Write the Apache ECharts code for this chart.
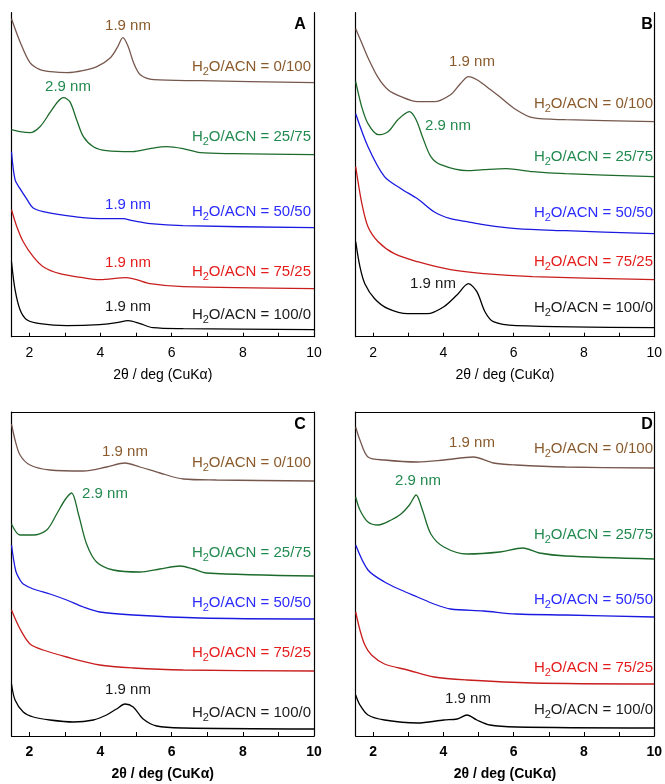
<!DOCTYPE html>
<html>
<head>
<meta charset="utf-8">
<script src="https://cdn.jsdelivr.net/npm/echarts@6/dist/echarts.min.js"></script>
<style>
  html, body { margin: 0; padding: 0; background: #fff; }
  #chart { width: 665px; height: 784px; }
</style>
</head>
<body>
<div id="chart"></div>
<script>
// 2θ (deg) vs. offset intensity (arb. units, stacked)
const ratios = ['0/100', '25/75', '50/50', '75/25', '100/0']
const xTicks = [2, 3, 4, 5, 6, 7, 8, 9, 10]
const xLabels = [2, 4, 6, 8, 10]

// panel A
const aBrown = [[1.5,318],[1.75,294],[2.02,274],[2.3,267],[2.6,265],[3.07,264],[3.5,266],[3.9,270],[4.28,279],[4.47,289],[4.63,299],[4.78,290],[4.93,274],[5.12,262],[5.5,257],[6.8,256],[10,254]]
const aGreen = [[1.5,207],[1.74,205],[2.02,204],[2.3,210],[2.58,224],[2.8,235],[2.96,239],[3.14,235],[3.33,217],[3.52,200],[3.8,190],[4.17,186],[4.9,185],[5.39,188],[5.86,190],[6.32,188],[6.8,184],[7.73,183],[10,182]]
const aBlue = [[1.5,185],[1.6,157],[1.74,148],[1.94,137],[2.1,129],[2.39,125],[2.86,122],[3.5,119],[3.98,118],[4.63,118],[4.9,116],[5.4,113],[6.32,111],[10,109]]
const aRed = [[1.5,127],[1.65,110],[1.83,95],[2.11,80],[2.39,70],[2.86,63],[3.5,59],[3.98,57],[4.73,59],[5.02,57],[5.39,53],[6.32,50],[10,48]]
const aBlack = [[1.5,75],[1.6,47],[1.74,27],[1.93,17],[2.3,13],[3.05,11],[3.98,12],[4.45,14],[4.78,16],[5.11,13],[5.48,9],[6.33,8],[10,7]]

// panel B
const bBrown = [[1.5,308],[1.67,294],[1.85,279],[2.14,259],[2.42,247],[2.79,240],[3.26,235],[3.73,235],[4.2,242],[4.48,253],[4.71,260],[4.95,257],[5.23,250],[5.6,240],[6.07,227],[6.54,219],[7.48,217],[10,215]]
const bGreen = [[1.5,255],[1.67,230],[1.85,213],[2.14,202],[2.42,205],[2.7,217],[3.03,225],[3.22,217],[3.4,200],[3.64,180],[3.92,172],[4.67,166],[5.14,167],[5.79,168],[6.54,165],[7.48,163],[10,160]]
const bBlue = [[1.5,223],[1.85,190],[2.32,160],[2.79,148],[3.26,138],[3.73,125],[4.2,118],[4.67,115],[5.14,112],[6.07,108],[7.48,106],[10,103]]
const bRed = [[1.5,170],[1.67,134],[1.85,110],[2.14,95],[2.6,83],[3.26,75],[4.2,67],[5.14,63],[6.54,60],[10,57]]
const bBlack = [[1.5,95],[1.62,70],[1.76,53],[2.04,38],[2.42,28],[2.98,23],[3.54,23],[4.01,30],[4.39,42],[4.71,53],[4.95,45],[5.18,25],[5.42,15],[6.07,11],[10,9]]

// panel C
const cBrown = [[1.5,312],[1.6,296],[1.74,281],[2.02,271],[2.58,266],[3.52,265],[4.17,269],[4.69,273],[5.11,269],[5.67,263],[6.33,257],[7.26,256],[10,255]]
const cGreen = [[1.5,212],[1.74,201],[2.11,201],[2.49,206],[2.77,222],[3.0,236],[3.19,243],[3.38,222],[3.61,192],[3.89,174],[4.36,166],[5.11,164],[5.67,167],[6.24,170],[6.61,167],[6.98,163],[10,160]]
const cBlue = [[1.5,191],[1.62,165],[1.74,156],[1.83,152],[2.11,147],[2.58,142],[3.05,136],[3.52,129],[3.98,124],[4.92,121],[6.8,118],[10,117]]
const cRed = [[1.5,126],[1.74,107],[2.02,92],[2.39,86],[3.05,79],[3.98,71],[4.92,68],[6.33,66],[10,65]]
const cBlack = [[1.5,52],[1.6,36],[1.83,24],[2.11,19],[2.58,16],[3.24,14],[3.8,16],[4.17,21],[4.45,27],[4.69,32],[4.92,29],[5.2,17],[5.58,10],[6.33,8],[10,7]]

// panel D
const dBrown = [[1.5,309],[1.62,296],[1.85,279],[2.32,276],[3.26,274],[4.01,276],[4.85,279],[5.42,273],[6.07,271],[7.48,269],[10,268]]
const dGreen = [[1.5,239],[1.62,226],[1.85,214],[2.14,211],[2.51,216],[2.79,222],[3.03,231],[3.22,241],[3.4,226],[3.64,202],[4.01,189],[4.67,182],[5.6,184],[6.26,188],[6.73,183],[7.48,180],[10,177]]
const dBlue = [[1.5,191],[1.85,166],[2.32,154],[2.79,146],[3.26,139],[3.73,132],[4.2,127],[5.14,125],[6.07,122],[7.48,121],[10,119]]
const dRed = [[1.5,124],[1.62,106],[1.76,91],[1.95,81],[2.32,72],[2.98,66],[3.73,59],[4.67,56],[6.54,53],[10,52]]
const dBlack = [[1.5,41],[1.62,31],[1.85,21],[2.32,16],[3.26,13],[4.01,16],[4.39,17],[4.67,21],[4.95,16],[5.32,11],[6.07,9],[10,8]]

const panelData = {
  A: [aBrown, aGreen, aBlue, aRed, aBlack],
  B: [bBrown, bGreen, bBlue, bRed, bBlack],
  C: [cBrown, cGreen, cBlue, cRed, cBlack],
  D: [dBrown, dGreen, dBlue, dRed, dBlack],
}

const lineColors = ['#76574d', '#1d6b2c', '#1a1ae0', '#c81e1e', '#000000']
const textColors = ['#8a5a2c', '#238a4f', '#2b2bff', '#e41c1c', '#1a1a1a']

// grid boxes and where the annotations sit (pixels)
const panels = [
  { id: 'A', left: 11.5, top: 12.7, bold: false, closed: false, letter: [300, 25],
    ratioX: 311, ratioY: [67, 137, 212, 272, 315],
    peaks: [[128, 26, '1.9 nm', 0], [68, 87, '2.9 nm', 1], [128, 205, '1.9 nm', 2], [128, 263, '1.9 nm', 3], [128, 307, '1.9 nm', 4]] },
  { id: 'B', left: 355.7, top: 12.7, bold: false, closed: false, letter: [647, 25],
    ratioX: 653, ratioY: [104, 157, 213, 262, 308],
    peaks: [[472, 62, '1.9 nm', 0], [448, 126, '2.9 nm', 1], [433, 284, '1.9 nm', 4]] },
  { id: 'C', left: 11.5, top: 412, bold: true, closed: true, letter: [300, 425],
    ratioX: 311, ratioY: [463, 553, 603, 653, 713],
    peaks: [[125, 452, '1.9 nm', 0], [105, 494, '2.9 nm', 1], [128, 690, '1.9 nm', 4]] },
  { id: 'D', left: 355.7, top: 412, bold: true, closed: true, letter: [647, 425],
    ratioX: 653, ratioY: [449, 535, 600, 668, 710],
    peaks: [[472, 443, '1.9 nm', 0], [418, 481, '2.9 nm', 1], [468, 699, '1.9 nm', 4]] },
]
const plotW = 302.5
const plotH = 324

const font = 'Liberation Sans, Arial, sans-serif'
let grid = [], xAxis = [], yAxis = [], series = [], graphic = []

panels.forEach(function (p, gi) {
  grid.push({ left: p.left, top: p.top, width: plotW, height: plotH })
  let tick = { show: true, inside: true, length: 4, customValues: xTicks, lineStyle: { color: '#000', width: 1 } }
  xAxis.push({
    type: 'value', gridIndex: gi, min: 1.5, max: 10, position: 'bottom',
    axisLine: { show: true, onZero: false, lineStyle: { color: '#000', width: 1.2 } },
    axisTick: tick,
    axisLabel: { customValues: xLabels, margin: 9, color: '#000', fontSize: 14, fontFamily: font, fontWeight: p.bold ? 'bold' : 'normal' },
    splitLine: { show: false },
    name: '2θ / deg (CuKα)', nameLocation: 'middle', nameGap: 31,
    nameTextStyle: { color: '#000', fontSize: 14, fontFamily: font, fontWeight: p.bold ? 'bold' : 'normal' },
  })
  if (p.closed) {
    xAxis.push({
      type: 'value', gridIndex: gi, min: 1.5, max: 10, position: 'top',
      axisLine: { show: true, onZero: false, lineStyle: { color: '#000', width: 1.2 } },
      axisTick: { show: false }, axisLabel: { show: false }, splitLine: { show: false },
    })
  }
  ;['left', 'right'].forEach(function (pos) {
    yAxis.push({
      type: 'value', gridIndex: gi, min: 0, max: plotH, position: pos,
      axisLine: { show: true, onZero: false, lineStyle: { color: '#000', width: 1.2 } },
      axisTick: { show: false }, axisLabel: { show: false }, splitLine: { show: false },
    })
  })
})

// series need the index of the bottom x axis and left y axis of each grid
let xi = 0, yi = 0
panels.forEach(function (p) {
  panelData[p.id].forEach(function (d, k) {
    series.push({
      type: 'line', name: p.id + ' ' + ratios[k], xAxisIndex: xi, yAxisIndex: yi,
      data: d, showSymbol: false, smooth: 0.3,
      lineStyle: { color: lineColors[k], width: 1.3 }, silent: true, animation: false,
    })
  })
  xi += p.closed ? 2 : 1
  yi += 2

  graphic.push({ type: 'text', x: p.letter[0], y: p.letter[1],
    style: { text: p.id, fill: '#000', font: 'bold 16px ' + font, align: 'center', verticalAlign: 'middle' } })
  p.ratioY.forEach(function (y, k) {
    graphic.push({ type: 'text', x: p.ratioX, y: y,
      style: {
        text: '{n|H}{s|2}{n|O/ACN = ' + ratios[k] + '}',
        align: 'right', verticalAlign: 'middle',
        rich: {
          n: { fontSize: 15, fontFamily: font, fill: textColors[k], lineHeight: 20 },
          s: { fontSize: 11, fontFamily: font, fill: textColors[k], padding: [10, 0, 0, 0] },
        },
      } })
  })
  p.peaks.forEach(function (pk) {
    graphic.push({ type: 'text', x: pk[0], y: pk[1],
      style: { text: pk[2], fill: textColors[pk[3]], font: '15px ' + font, align: 'center', verticalAlign: 'middle' } })
  })
})

const chart = echarts.init(document.getElementById('chart'), null, { renderer: 'canvas' })
chart.setOption({
  animation: false,
  backgroundColor: '#fff',
  grid: grid,
  xAxis: xAxis,
  yAxis: yAxis,
  series: series,
  graphic: graphic,
})
</script>
</body>
</html>
